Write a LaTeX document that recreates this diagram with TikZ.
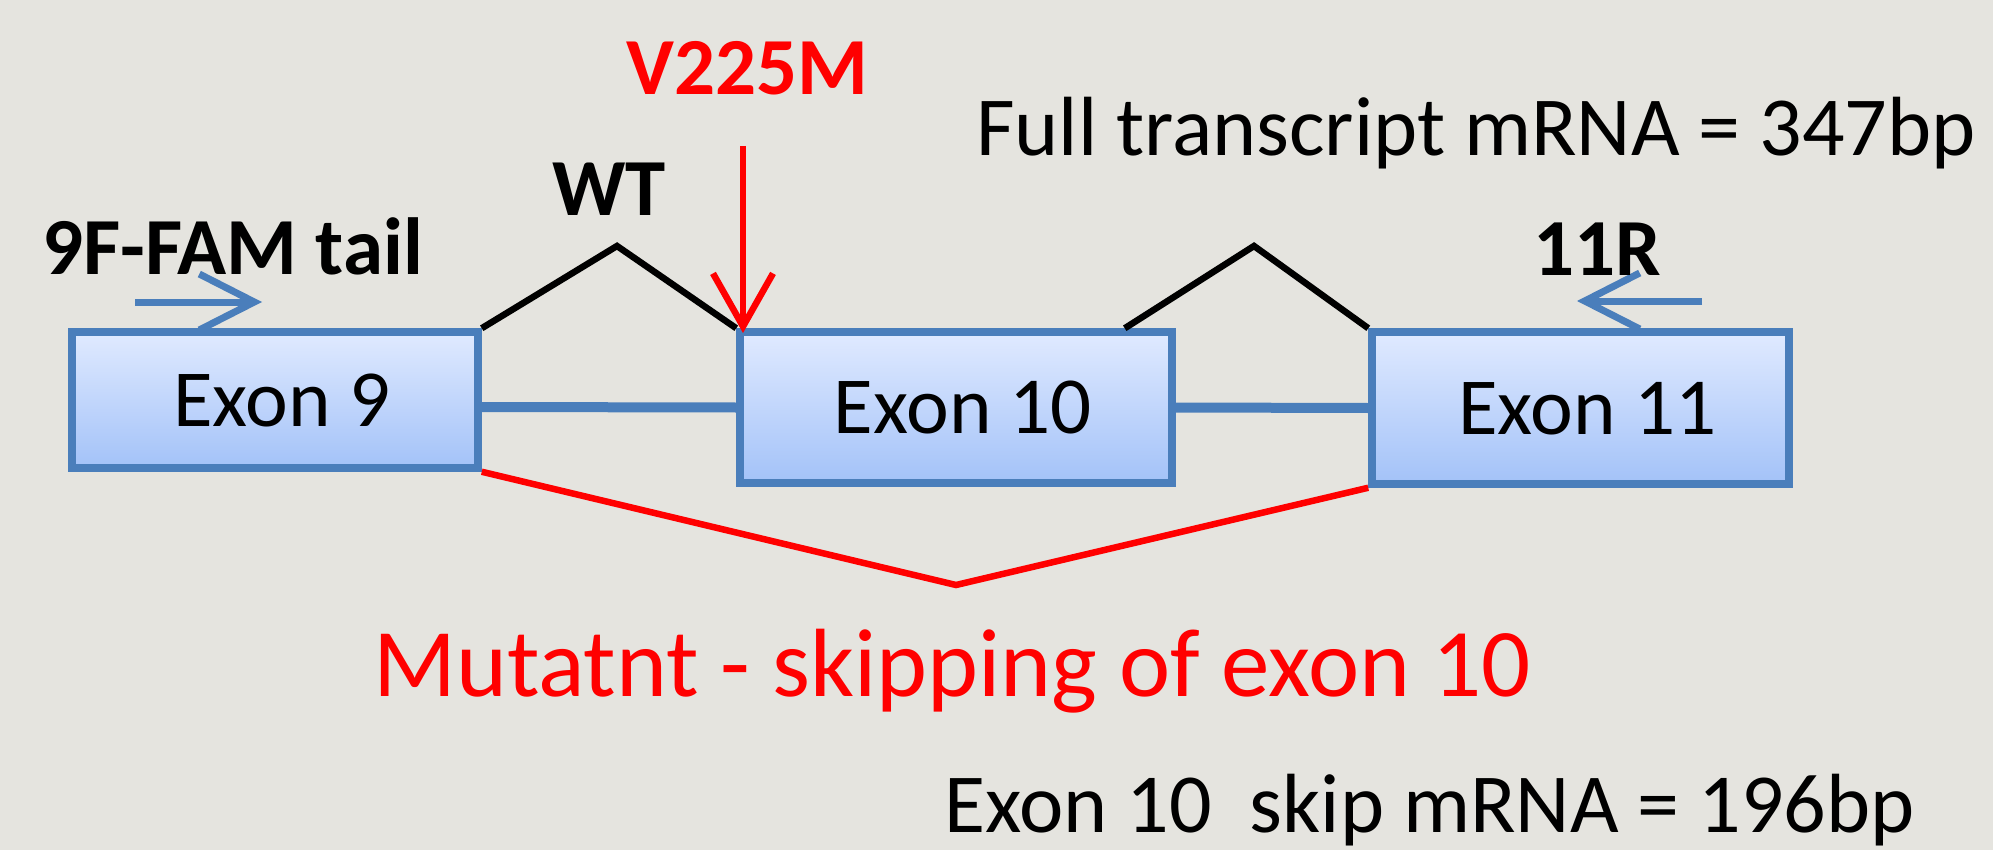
\documentclass[tikz,border=0pt]{standalone}
\usepackage{fontspec}
\setmainfont{Carlito}
\usetikzlibrary{arrows.meta}
\pgfdeclarelayer{bg}
\pgfsetlayers{bg,main}
\definecolor{bgc}{RGB}{229,228,223}
\definecolor{exblue}{RGB}{74,126,187}
\definecolor{extop}{RGB}{224,234,255}
\definecolor{exbot}{RGB}{163,194,248}
\definecolor{myred}{RGB}{255,0,0}
\begin{document}
\begin{tikzpicture}[x=1pt,y=-1pt,
  exon/.style={draw=exblue, line width=7.5pt, top color=extop, bottom color=exbot,
    inner sep=0pt, text height=52pt, text depth=0pt, font=\fontsize{81}{97}\selectfont},
  lbl/.style={inner sep=0pt, anchor=base west},
  boldlbl/.style={lbl, font=\bfseries\fontsize{81}{97}\selectfont},
  biglbl/.style={lbl, font=\fontsize{84}{100}\selectfont},
  primer/.style={draw=exblue, line width=7pt, -{Straight Barb[length=55pt,width=56pt]}},
  mutarrow/.style={draw=myred, line width=6.5pt, -{Straight Barb[length=53pt,width=60pt]}},
  splice/.style={draw=black, line width=6.5pt, line join=miter},
  skip/.style={draw=myred, line width=6.5pt},
  intron/.style={draw=exblue, line width=10pt}
]
\fill[bgc] (0,0) rectangle (1993,850);
\useasboundingbox (0,0) rectangle (1993,850);

% exons
\node[exon, minimum width=406pt, minimum height=136pt] (ex9) at (275,400) {\hspace*{14pt}Exon 9};
\node[exon, minimum width=432pt, minimum height=151pt] (ex10) at (956,407.5) {\hspace*{14pt}Exon 10};
\node[exon, minimum width=417pt, minimum height=152pt] (ex11) at (1580.5,408) {\hspace*{14pt}Exon 11};

% shadows
\begin{pgfonlayer}{bg}
\foreach \n in {ex9,ex10,ex11}{
  \foreach \r in {2,4,...,20}{
    \fill[black, opacity=0.045, rounded corners=\r pt]
      ([xshift=-\r pt+4pt, yshift=-9pt-\r pt]\n.south west) rectangle
      ([xshift=\r pt-4pt, yshift=-9pt+\r pt]\n.north east);
  }
}
\end{pgfonlayer}

% introns (blue connectors)
\draw[intron] ([yshift=-7pt]ex9.east) -- (ex10.west);
\draw[intron] (ex10.east) -- (ex11.west);

% WT splicing
\coordinate (wtpk) at (617,246);
\coordinate (pk2) at (1254,246);
\draw[splice] (ex9.north east) -- (wtpk) -- (ex10.north west);
\draw[splice] ([xshift=-51pt]ex10.north east) -- (pk2) -- (ex11.north west);

% mutant skipping
\coordinate (skipv) at (956,585);
\draw[skip] (ex9.south east) -- (skipv) -- (ex11.south west);

% primers
\coordinate (p9s) at (135,302);
\coordinate (p9e) at (262,302);
\draw[primer] (p9s) -- (p9e);
\coordinate (p11s) at (1702,301);
\coordinate (p11e) at (1577,301);
\draw[primer] (p11s) -- (p11e);

% mutation arrow
\coordinate (ms) at (743,146);
\coordinate (me) at (743,333);
\draw[mutarrow] (ms) -- (me);

% labels
\node[boldlbl] (t9f) at (42,275) {9F-FAM tail};
\node[boldlbl] (twt) at (552,216) {WT};
\node[boldlbl, text=myred] (tv) at (626,95) {V225M};
\node[boldlbl] (t11r) at (1533,276) {11R};
\node[biglbl] (tfull) at (976,156) {Full transcript mRNA = 347bp};
\node[lbl, text=myred, font=\fontsize{97}{116}\selectfont] (tmut) at (373,696) {Mutatnt - skipping of exon 10};
\node[biglbl] (tskip) at (944,832) {Exon 10\ \ skip mRNA = 196bp};
\end{tikzpicture}
\end{document}
